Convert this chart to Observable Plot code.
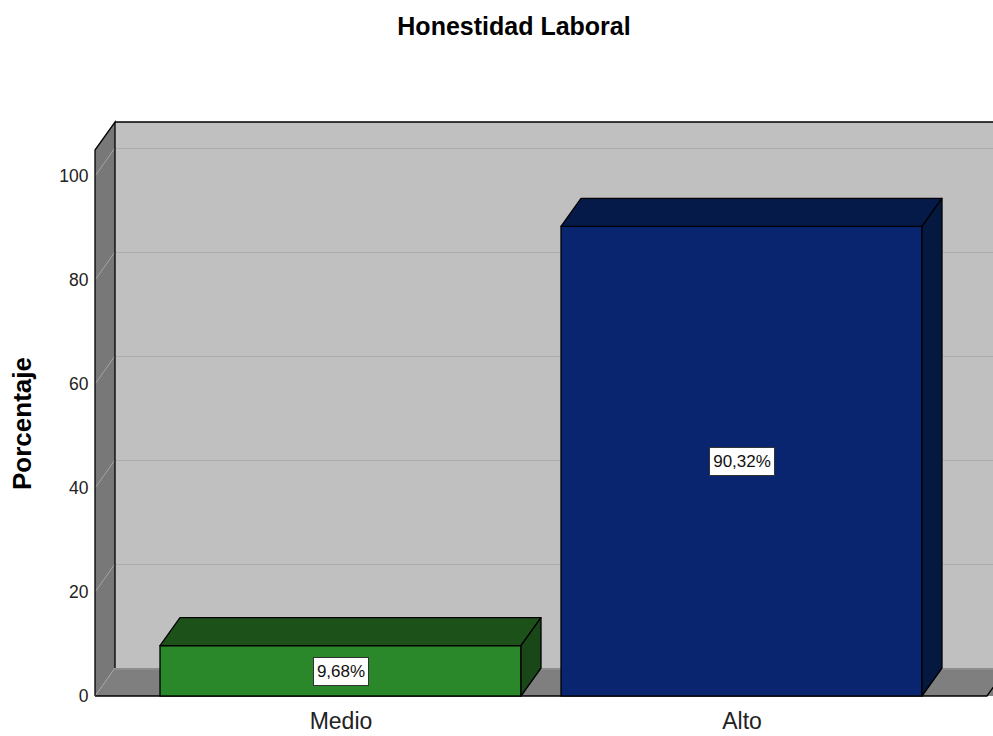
<!DOCTYPE html>
<html><head><meta charset="utf-8">
<script src="https://cdn.jsdelivr.net/npm/d3@7"></script>
<script src="https://cdn.jsdelivr.net/npm/@observablehq/plot@0.6"></script>
<style>
body{margin:0;background:#fff;width:993px;height:736px;overflow:hidden;font-family:"Liberation Sans",Arial,sans-serif}
#title{height:50px;line-height:52px;font-size:25px;font-weight:bold;text-align:center;padding-left:35px;color:#000;white-space:nowrap}
#chart svg{display:block;overflow:hidden}
</style></head><body>
<div id="title">Honestidad Laboral</div>
<div id="chart"></div>
<script>
// ---- data ----
const categories = ["Medio", "Alto"];
const percentages = [9.68, 90.32];
const valueLabels = ["9,68%", "90,32%"];
const yTicks = [0, 20, 40, 60, 80, 100];
const yMax = 105;
const yAxisLabel = "Porcentaje";
const frontColors = ["#2a872a", "#0a2570"];
const topColors = ["#1c511a", "#061a4a"];
const sideColors = ["#1a4718", "#05183f"];

const data = categories.map((c, i) => ({
  cat: c, value: percentages[i], label: valueLabels[i],
  front: frontColors[i], top: topColors[i], side: sideColors[i]
}));

// ---- layout constants ----
const DX = 20, DY = 28;          // 3D depth offset in pixels
const W = 993, H = 686;
const ML = 95, MR = 6, MT = 100, MB = 40;

const NS = "http://www.w3.org/2000/svg";
function el(name, attrs) {
  const e = document.createElementNS(NS, name);
  for (const k in attrs) e.setAttribute(k, attrs[k]);
  return e;
}
function bandwidthOf(scales) {
  if (scales.x && typeof scales.x.bandwidth === "function") return scales.x.bandwidth();
  if (scales.scales && scales.scales.x) return scales.scales.x.bandwidth;
  return 0;
}

// Back wall
function backWall(index, scales, values, dim) {
  const g = el("g", {});
  const xl = dim.marginLeft, xr = dim.width - dim.marginRight;
  const y0 = scales.y(0), yT = scales.y(yMax);
  g.appendChild(el("rect", {x: xl + DX, y: yT - DY, width: xr - xl + 40, height: y0 - yT, fill: "#c0c0c0"}));
  return g;
}
// Left wall + floor
function sideWalls(index, scales, values, dim) {
  const g = el("g", {});
  const xl = dim.marginLeft, xr = dim.width - dim.marginRight;
  const y0 = scales.y(0), yT = scales.y(yMax);
  // floor
  g.appendChild(el("path", {
    d: `M${xl},${y0}L${xl + DX},${y0 - DY}L${xr + DX + 40},${y0 - DY}L${xr + 40},${y0}Z`,
    fill: "#7f7f7f"
  }));
  g.appendChild(el("path", {d: `M${xl + DX},${y0 - DY + 1}H${xr + DX + 40}`, stroke: "#8e8e8e", "stroke-width": 2, fill: "none"}));
  g.appendChild(el("path", {d: `M${xl},${y0}H${xr}L${xr + DX},${y0 - DY}`, stroke: "#000", "stroke-width": 1.3, fill: "none"}));
  // left wall
  g.appendChild(el("path", {
    d: `M${xl},${y0}V${yT}L${xl + DX},${yT - DY}V${y0 - DY}Z`,
    fill: "#787878"
  }));
  for (const t of yTicks) {
    const yy = scales.y(t);
    g.appendChild(el("line", {x1: xl, y1: yy, x2: xl + DX, y2: yy - DY, stroke: "#a4a4a4", "stroke-width": 1}));
  }
  g.appendChild(el("path", {
    d: `M${xl},${y0}V${yT}L${xl + DX},${yT - DY}V${y0 - DY}M${xl + DX},${yT - DY}H${xr + DX + 40}`,
    stroke: "#000", "stroke-width": 1.3, fill: "none"
  }));
  return g;
}
// Bar top and side faces
function barDepth(index, scales, values, dim) {
  const g = el("g", {});
  const bw = bandwidthOf(scales);
  const y0 = scales.y(0);
  for (const d of data) {
    const x0 = scales.x(d.cat), x1 = x0 + bw, yt = scales.y(d.value);
    g.appendChild(el("path", {
      d: `M${x0},${yt}L${x0 + DX},${yt - DY}H${x1 + DX}L${x1},${yt}Z`,
      fill: d.top, stroke: "#000", "stroke-width": 1.3, "stroke-linejoin": "round"
    }));
    g.appendChild(el("path", {
      d: `M${x1},${yt}L${x1 + DX},${yt - DY}V${y0 - DY}L${x1},${y0}Z`,
      fill: d.side, stroke: "#000", "stroke-width": 1.3, "stroke-linejoin": "round"
    }));
  }
  return g;
}
// White boxes behind value labels
const ctx = document.createElement("canvas").getContext("2d");
function labelBoxes(index, scales, values, dim) {
  const g = el("g", {});
  const bw = bandwidthOf(scales);
  ctx.font = '17px "Liberation Sans", Arial, sans-serif';
  for (const d of data) {
    const cx = scales.x(d.cat) + bw / 2, cy = scales.y(d.value / 2);
    const w = ctx.measureText(d.label).width + 7, h = 28;
    g.appendChild(el("rect", {
      x: Math.round(cx - w / 2) + 0.5, y: Math.round(cy - h / 2) + 0.5, width: Math.round(w), height: h,
      fill: "#fff", stroke: "#333", "stroke-width": 1
    }));
  }
  return g;
}

const chart = Plot.plot({
  width: W, height: H,
  marginLeft: ML, marginRight: MR, marginTop: MT, marginBottom: MB,
  style: {fontFamily: '"Liberation Sans", Arial, sans-serif', background: "transparent", color: "#111"},
  x: {domain: categories, paddingInner: 0.1, paddingOuter: 0.16, label: null},
  y: {domain: [0, yMax], label: null},
  marks: [
    backWall,
    Plot.ruleY(yTicks.filter(t => t > 0), {dx: DX, dy: -DY, stroke: "#acacac", strokeWidth: 1.2}),
    sideWalls,
    Plot.barY(data, {x: "cat", y: "value", fill: "front", stroke: "#000", strokeWidth: 1.3}),
    barDepth,
    labelBoxes,
    Plot.text(data, {x: "cat", y: d => d.value / 2, text: "label", fontSize: 17, fill: "#111"}),
    Plot.axisY(yTicks, {tickSize: 0, tickPadding: 7, fontSize: 17.5, label: null, fill: "#222"}),
    Plot.axisX({tickSize: 0, tickPadding: 16, fontSize: 23, label: null, fill: "#222"}),
    Plot.text([yAxisLabel], {text: d => d, frameAnchor: "left", textAnchor: "middle", dx: -73, rotate: -90, fontSize: 26, fontWeight: "bold", fill: "#000"})
  ]
});
document.getElementById("chart").appendChild(chart);
</script>
</body></html>
